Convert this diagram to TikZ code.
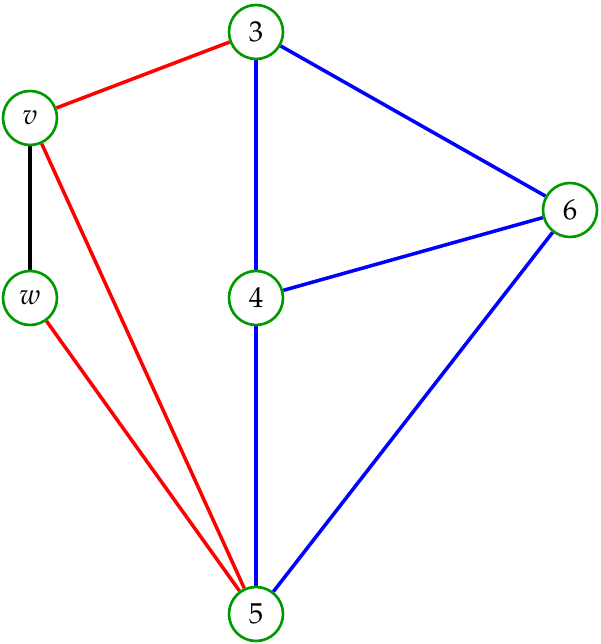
\documentclass[tikz,border=0pt]{standalone}
\usepackage{amsmath}
\usepackage{amssymb}
\usepackage{mathpazo}
\usepackage{xcolor}
\pgfdeclarelayer{background}
\pgfsetlayers{background,main}

\begin{document}
\begin{tikzpicture}[vertex/.style={circle,draw=green!60!black,line width=1.5pt,fill=white,minimum size=1.08cm,inner sep=0pt,font=\fontsize{16.4}{18}\selectfont},
redge/.style={red,line width=2pt},
bedge/.style={blue,line width=2pt}]

\useasboundingbox (0,0) rectangle (12,12.88) ;

\node [vertex] (n3) at (5.12,12.24) {$3$} ;
\node [vertex] (v) at (0.60,10.52) {$v$} ;
\node [vertex] (w) at (0.60,6.92) {$w$} ;
\node [vertex] (n4) at (5.12,6.92) {$4$} ;
\node [vertex] (n6) at (11.40,8.68) {$6$} ;
\node [vertex] (n5) at (5.12,0.60) {$5$} ;

\begin{pgfonlayer}{background}
\draw [redge] (n3) -- (v) ;
\draw [redge] (v) -- (n5) ;
\draw [redge] (w) -- (n5) ;
\draw [line width=2pt] (v) -- (w) ;
\draw [bedge] (n3) -- (n4) ;
\draw [bedge] (n3) -- (n6) ;
\draw [bedge] (n4) -- (n6) ;
\draw [bedge] (n4) -- (n5) ;
\draw [bedge] (n6) -- (n5) ;
\end{pgfonlayer}

\end{tikzpicture}
\end{document}
